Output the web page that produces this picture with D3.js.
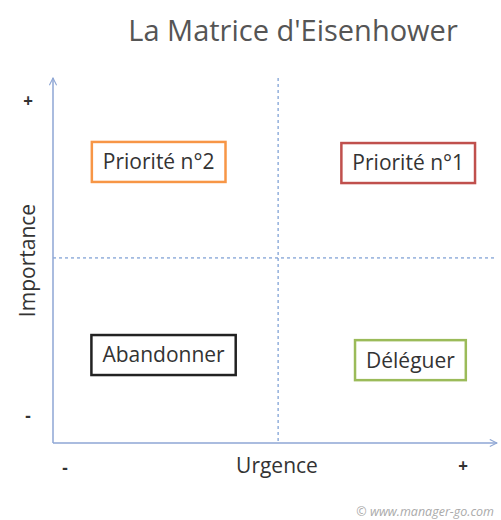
<!DOCTYPE html>
<html>
<head>
<meta charset="utf-8">
<script src="https://cdn.jsdelivr.net/npm/d3@7"></script>
<style>
  body { margin: 0; background: #fff; }
  text { font-family: "Open Sans", "DejaVu Sans", sans-serif; }
</style>
</head>
<body>
<script>
width = 501;
height = 520;

// quadrant labels and where they sit (urgence / importance, 0..10)
labels = ["Priorité n°2", "Priorité n°1", "Abandonner", "Déléguer"];
urgence = [2.38, 8.0, 2.49, 8.05];
importance = [7.7, 7.67, 2.41, 2.27];
colors = ["#f79646", "#c0504d", "#222222", "#9bbb59"];
mid = 5.07;

svg = d3.select("body").append("svg")
  .attr("width", width)
  .attr("height", height);

x = d3.scaleLinear().domain([0, 10]).range([53, 497]);
y = d3.scaleLinear().domain([0, 10]).range([443, 78]);

// title
svg.append("text")
  .attr("x", 293).attr("y", 41)
  .attr("text-anchor", "middle")
  .attr("font-size", 29)
  .attr("fill", "#555")
  .text("La Matrice d'Eisenhower");

// arrow marker
defs = svg.append("defs");
defs.append("marker")
  .attr("id", "arr")
  .attr("viewBox", "0 0 10 10")
  .attr("refX", 9).attr("refY", 5)
  .attr("markerWidth", 9).attr("markerHeight", 9)
  .attr("markerUnits", "userSpaceOnUse")
  .attr("orient", "auto")
  .append("path")
  .attr("d", "M1,1 L9,5 L1,9")
  .attr("fill", "none")
  .attr("stroke", "#8ea6d4")
  .attr("stroke-width", 1.2);

// dashed quadrant lines
svg.append("line")
  .attr("x1", x(mid)).attr("x2", x(mid))
  .attr("y1", y(10)).attr("y2", y(0))
  .attr("stroke", "#5b87c9").attr("stroke-width", 1)
  .attr("stroke-dasharray", "3,3");
svg.append("line")
  .attr("x1", x(0)).attr("x2", x(10))
  .attr("y1", y(mid)).attr("y2", y(mid))
  .attr("stroke", "#5b87c9").attr("stroke-width", 1)
  .attr("stroke-dasharray", "3,3");

// axes
svg.append("line")
  .attr("x1", x(0)).attr("x2", x(0))
  .attr("y1", y(0)).attr("y2", y(10))
  .attr("stroke", "#8ea6d4").attr("stroke-width", 1.5)
  .attr("marker-end", "url(#arr)");
svg.append("line")
  .attr("x1", x(0)).attr("x2", x(10))
  .attr("y1", y(0)).attr("y2", y(0))
  .attr("stroke", "#8ea6d4").attr("stroke-width", 1.5)
  .attr("marker-end", "url(#arr)");

// axis labels
svg.append("text")
  .attr("transform", "translate(35," + y(5) + ") rotate(-90)")
  .attr("text-anchor", "middle")
  .attr("font-size", 21).attr("fill", "#333")
  .text("Importance");
svg.append("text")
  .attr("x", 277).attr("y", 473)
  .attr("text-anchor", "middle")
  .attr("font-size", 21).attr("fill", "#333")
  .text("Urgence");

ends = [
  {t: "+", x: 28, y: 107},
  {t: "-", x: 28, y: 422},
  {t: "-", x: 65, y: 474},
  {t: "+", x: 463, y: 472}
];
svg.selectAll(".end").data(ends).enter().append("text")
  .attr("class", "end")
  .attr("x", d => d.x).attr("y", d => d.y)
  .attr("text-anchor", "middle")
  .attr("font-size", 17).attr("font-weight", "bold").attr("fill", "#333")
  .text(d => d.t);

// quadrant boxes
boxes = svg.selectAll(".box").data(labels).enter().append("g")
  .attr("class", "box")
  .attr("transform", (d, i) => "translate(" + x(urgence[i]) + "," + y(importance[i]) + ")");
boxes.append("rect");
boxes.append("text")
  .attr("text-anchor", "middle")
  .attr("dy", "0.35em")
  .attr("font-size", 21).attr("fill", "#333")
  .text(d => d);
boxes.each(function(d, i) {
  var g = d3.select(this);
  var w = g.select("text").node().getComputedTextLength() + 22;
  g.select("rect")
    .attr("x", -w / 2).attr("y", -20)
    .attr("width", w).attr("height", 40)
    .attr("fill", "#fff")
    .attr("stroke", colors[i]).attr("stroke-width", 2.5);
});

// credit
svg.append("text")
  .attr("x", 494).attr("y", 516)
  .attr("text-anchor", "end")
  .attr("font-size", 12.5).attr("font-style", "italic").attr("fill", "#aaa")
  .text("© www.manager-go.com");
</script>
</body>
</html>
